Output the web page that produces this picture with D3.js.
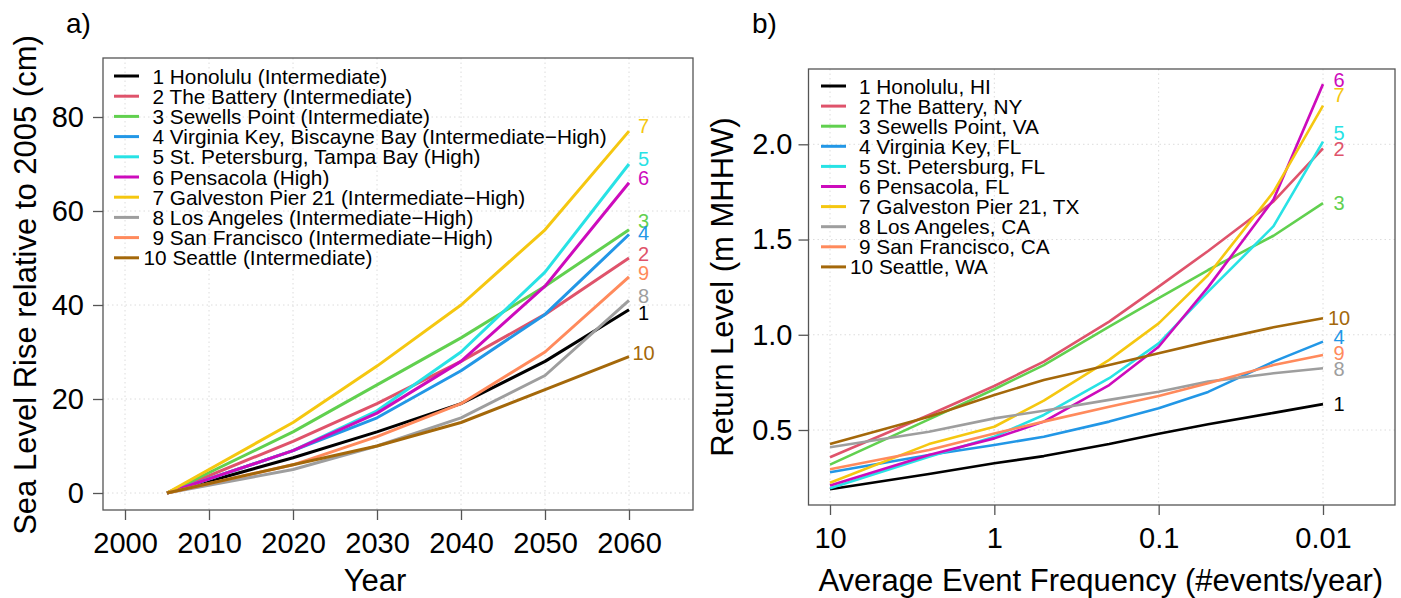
<!DOCTYPE html>
<html>
<head>
<meta charset="utf-8">
<script src="https://cdn.jsdelivr.net/npm/d3@7"></script>
<style>
  body { margin: 0; background: #fff; }
  svg { font-family: "Liberation Sans", Arial, sans-serif; }
</style>
</head>
<body>
<svg id="chart" width="1401" height="598"></svg>
<script>
// ---- data ----
var colors = ["#000000", "#DF536B", "#61D04F", "#2297E6", "#28E2E5",
              "#CD0BBC", "#F5C710", "#9E9E9E", "#FF8A5C", "#A4680A"];

// panel a) sea level rise (cm) by year
var years = [2005, 2020, 2030, 2040, 2050, 2060];
var slrLabels = ["1 Honolulu (Intermediate)", "2 The Battery (Intermediate)",
  "3 Sewells Point (Intermediate)", "4 Virginia Key, Biscayne Bay (Intermediate\u2212High)",
  "5 St. Petersburg, Tampa Bay (High)", "6 Pensacola (High)",
  "7 Galveston Pier 21 (Intermediate\u2212High)", "8 Los Angeles (Intermediate\u2212High)",
  "9 San Francisco (Intermediate\u2212High)", "10 Seattle (Intermediate)"];
var honolulu    = [0, 7.5, 13, 19, 28, 39];
var battery     = [0, 11, 19, 28, 38, 50];
var sewells     = [0, 13, 23, 33, 44, 56];
var virginiaKey = [0, 9, 16, 26, 38, 55];
var stPete      = [0, 9, 17.5, 30, 47, 70];
var pensacola   = [0, 9, 17, 28, 44, 66];
var galveston   = [0, 15, 27, 40, 56, 77];
var losAngeles  = [0, 5, 10, 16, 25, 41];
var sanFran     = [0, 6, 12, 19, 30, 46];
var seattle     = [0, 6, 10, 15, 22, 29];
var slrSeries = [honolulu, battery, sewells, virginiaKey, stPete,
                 pensacola, galveston, losAngeles, sanFran, seattle];
var slrEndLabelY = [38.4, 50.9, 57.9, 55.4, 71.1, 67.0, 78.1, 41.9, 46.8, 29.9];
var slrXTicks = [2000, 2010, 2020, 2030, 2040, 2050, 2060];
var slrYTicks = [0, 20, 40, 60, 80];

// panel b) return level (m MHHW) by event frequency
var freq = [10, 2.5, 1, 0.5, 0.2, 0.1, 0.05, 0.02, 0.01];
var rlLabels = ["1 Honolulu, HI", "2 The Battery, NY", "3 Sewells Point, VA",
  "4 Virginia Key, FL", "5 St. Petersburg, FL", "6 Pensacola, FL",
  "7 Galveston Pier 21, TX", "8 Los Angeles, CA", "9 San Francisco, CA", "10 Seattle, WA"];
var rlHonolulu    = [0.189, 0.269, 0.325, 0.363, 0.426, 0.48, 0.53, 0.59, 0.636];
var rlBattery     = [0.357, 0.579, 0.731, 0.859, 1.069, 1.253, 1.44, 1.70, 1.979];
var rlSewells     = [0.318, 0.556, 0.714, 0.841, 1.043, 1.192, 1.34, 1.52, 1.691];
var rlVirginiaKey = [0.278, 0.369, 0.421, 0.465, 0.544, 0.614, 0.70, 0.859, 0.964];
var rlStPete      = [0.194, 0.36, 0.465, 0.579, 0.772, 0.955, 1.226, 1.57, 2.014];
var rlPensacola   = [0.209, 0.369, 0.456, 0.544, 0.736, 0.937, 1.25, 1.71, 2.316];
var rlGalveston   = [0.223, 0.426, 0.517, 0.654, 0.868, 1.06, 1.314, 1.75, 2.203];
var rlLosAngeles  = [0.409, 0.491, 0.561, 0.601, 0.658, 0.701, 0.754, 0.798, 0.824];
var rlSanFran     = [0.294, 0.395, 0.482, 0.544, 0.622, 0.679, 0.745, 0.841, 0.894];
var rlSeattle     = [0.426, 0.570, 0.684, 0.763, 0.841, 0.903, 0.964, 1.039, 1.087];
var rlSeries = [rlHonolulu, rlBattery, rlSewells, rlVirginiaKey, rlStPete,
                rlPensacola, rlGalveston, rlLosAngeles, rlSanFran, rlSeattle];
var rlEndLabelY = [0.64, 1.976, 1.691, 0.99, 2.062, 2.338, 2.259, 0.82, 0.903, 1.087];
var rlXTicks = [10, 1, 0.1, 0.01];
var rlXTickLabels = ["10", "1", "0.1", "0.01"];
var rlYTicks = [0.5, 1.0, 1.5, 2.0];

var svg = d3.select("#chart");

function panel(opt) {
    var g = svg.append("g");
    var x = opt.x, y = opt.y, box = opt.box;

    // grid
    g.append("g").selectAll("line").data(opt.xTicks).enter().append("line")
        .attr("x1", function(d) { return x(d); }).attr("x2", function(d) { return x(d); })
        .attr("y1", box.top).attr("y2", box.bottom)
        .attr("stroke", "#dcdcdc").attr("stroke-dasharray", "1.5,3");
    g.append("g").selectAll("line").data(opt.yTicks).enter().append("line")
        .attr("y1", function(d) { return y(d); }).attr("y2", function(d) { return y(d); })
        .attr("x1", box.left).attr("x2", box.right)
        .attr("stroke", "#dcdcdc").attr("stroke-dasharray", "1.5,3");

    // axes
    var xa = g.append("g").attr("transform", "translate(0," + box.bottom + ")")
        .call(d3.axisBottom(x).tickValues(opt.xTicks).tickSize(10).tickPadding(12)
              .tickFormat(opt.xFormat));
    var ya = g.append("g").attr("transform", "translate(" + box.left + ",0)")
        .call(d3.axisLeft(y).tickValues(opt.yTicks).tickSize(10).tickPadding(opt.yPad)
              .tickFormat(opt.yFormat));
    [xa, ya].forEach(function(a) {
        a.select(".domain").remove();
        a.selectAll("line").attr("stroke", "#555").attr("stroke-width", 1.3);
        a.selectAll("text").attr("font-size", 29).attr("fill", "#000")
            .attr("font-family", "Liberation Sans, Arial, sans-serif");
    });

    // lines
    var line = d3.line()
        .x(function(d) { return x(d[0]); })
        .y(function(d) { return y(d[1]); });
    opt.series.forEach(function(s, i) {
        g.append("path")
            .datum(opt.xs.map(function(v, j) { return [v, s[j]]; }))
            .attr("d", line)
            .attr("fill", "none")
            .attr("stroke", colors[i])
            .attr("stroke-width", opt.lw)
            .attr("stroke-linejoin", "round");
    });

    // end labels
    g.append("g").selectAll("text").data(opt.endY).enter().append("text")
        .attr("x", x(opt.xs[opt.xs.length - 1]) + opt.endDx)
        .attr("y", function(d) { return y(d); })
        .attr("dy", "0.36em")
        .attr("text-anchor", "middle")
        .attr("font-size", 20)
        .attr("fill", function(d, i) { return colors[i]; })
        .text(function(d, i) { return i + 1; });

    // box
    g.append("rect")
        .attr("x", box.left).attr("y", box.top)
        .attr("width", box.right - box.left).attr("height", box.bottom - box.top)
        .attr("fill", "none").attr("stroke", "#555").attr("stroke-width", 1.3);

    // legend
    var lg = g.append("g").selectAll("g").data(opt.labels).enter().append("g")
        .attr("transform", function(d, i) {
            return "translate(0," + (opt.leg.y0 + i * opt.leg.dy) + ")";
        });
    lg.append("line")
        .attr("x1", opt.leg.x0).attr("x2", opt.leg.x0 + 25)
        .attr("stroke", function(d, i) { return colors[i]; })
        .attr("stroke-width", 3);
    lg.append("text")
        .attr("x", function(d, i) { return opt.leg.tx - (i >= 9 ? 9 : 0); })
        .attr("dy", "0.36em")
        .attr("font-size", 20.8)
        .text(function(d) { return d; });

    // titles
    svg.append("text")
        .attr("x", (box.left + box.right) / 2 + opt.xTitleDx).attr("y", 591)
        .attr("text-anchor", "middle").attr("font-size", 31)
        .text(opt.xTitle);
    svg.append("text")
        .attr("transform", "translate(" + opt.yTitleX + "," + ((box.top + box.bottom) / 2 + opt.yTitleDy) + ") rotate(-90)")
        .attr("text-anchor", "middle").attr("font-size", 31)
        .text(opt.yTitle);
    svg.append("text")
        .attr("x", opt.tag[0]).attr("y", opt.tag[1])
        .attr("font-size", 28)
        .text(opt.tagText);
}

// a) sea level rise
panel({
    x: d3.scaleLinear().domain([2000, 2060]).range([125, 629]),
    y: d3.scaleLinear().domain([0, 80]).range([493, 117]),
    box: {left: 103, right: 693, top: 58, bottom: 510},
    xTicks: slrXTicks, yTicks: slrYTicks,
    xFormat: d3.format("d"), yFormat: d3.format("d"), yPad: 9,
    xs: years, series: slrSeries, endY: slrEndLabelY, endDx: 14.5, lw: 3,
    labels: slrLabels, leg: {x0: 114, tx: 152.5, y0: 76, dy: 20.2},
    xTitle: "Year", xTitleDx: -23,
    yTitle: "Sea Level Rise relative to 2005 (cm)", yTitleX: 36, yTitleDy: 1,
    tag: [66, 33], tagText: "a)"
});

// b) return levels
panel({
    x: d3.scaleLog().domain([10, 0.01]).range([830, 1323]),
    y: d3.scaleLinear().domain([0.5, 2.0]).range([430, 144.3]),
    box: {left: 808.5, right: 1395, top: 69, bottom: 505},
    xTicks: rlXTicks, yTicks: rlYTicks,
    xFormat: function(d, i) { return rlXTickLabels[i]; }, yFormat: d3.format(".1f"), yPad: 6,
    xs: freq, series: rlSeries, endY: rlEndLabelY, endDx: 16, lw: 2.6,
    labels: rlLabels, leg: {x0: 821, tx: 859, y0: 86, dy: 20.1},
    xTitle: "Average Event Frequency (#events/year)", xTitleDx: -1,
    yTitle: "Return Level (m MHHW)", yTitleX: 733, yTitleDy: 0,
    tag: [752, 33], tagText: "b)"
});
</script>
</body>
</html>
